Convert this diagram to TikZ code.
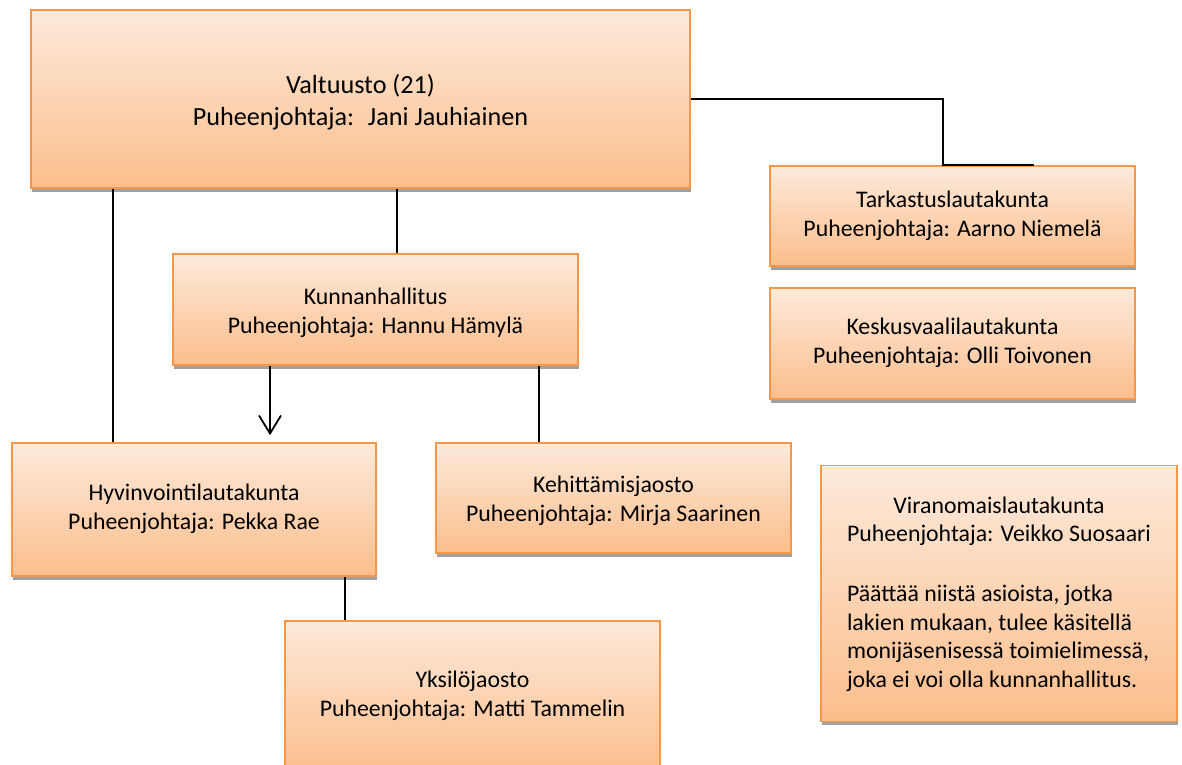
\documentclass[tikz,border=0pt]{standalone}
\usepackage{fontspec}
\setmainfont{Carlito}
\usetikzlibrary{shadows,arrows.meta}
\definecolor{boxborder}{HTML}{F79646}
\definecolor{boxtop}{HTML}{FDEADB}
\definecolor{boxbottom}{HTML}{FBBE8C}
\definecolor{shadowgray}{RGB}{160,160,160}
\newcommand\orgtext[2]{\raisebox{#1}[\height][\depth]{\begin{tabular}{@{}c@{}}#2\end{tabular}}}
\tikzset{
  orgbox/.style={draw=boxborder, line width=1.6pt, top color=boxtop, bottom color=boxbottom,
    inner sep=0pt, align=center, font=\fontsize{23.8}{28.7}\selectfont,
    drop shadow={shadow xshift=1pt, shadow yshift=-3.5pt, fill=shadowgray, opacity=1}},
  link/.style={draw=black, line width=1.5pt},
  arrowlink/.style={draw=black, line width=1.8pt, -{Straight Barb[length=18pt,width=22pt]}, shorten >=7pt}
}
\begin{document}
\begin{tikzpicture}[x=1pt,y=-1pt]
\useasboundingbox (0,0) rectangle (1182,764);
\clip (0,0) rectangle (1182,764);
% boxes
\node[orgbox, minimum width=659, minimum height=178, font=\fontsize{26.2}{32}\selectfont] (valt) at (360.5,99)
  {\orgtext{-4pt}{Valtuusto (21)\\Puheenjohtaja:~ Jani Jauhiainen}};
\node[orgbox, minimum width=365, minimum height=100] (tark) at (952.5,216)
  {\orgtext{0pt}{Tarkastuslautakunta\\Puheenjohtaja: Aarno Niemelä}};
\node[orgbox, minimum width=365, minimum height=111] (kesk) at (952.5,343.5)
  {\orgtext{0pt}{Keskusvaalilautakunta\\Puheenjohtaja: Olli Toivonen}};
\node[orgbox, minimum width=405, minimum height=111] (kh) at (375.5,309.5)
  {\orgtext{-3.5pt}{Kunnanhallitus\\Puheenjohtaja: Hannu Hämylä}};
\node[orgbox, minimum width=364, minimum height=133] (hyv) at (194,509.5)
  {\orgtext{0pt}{Hyvinvointilautakunta\\Puheenjohtaja: Pekka Rae}};
\node[orgbox, minimum width=355, minimum height=110] (keh) at (613.5,498)
  {\orgtext{-3pt}{Kehittämisjaosto\\Puheenjohtaja: Mirja Saarinen}};
\node[orgbox, minimum width=375, minimum height=150] (yks) at (472.5,696)
  {\orgtext{0pt}{Yksilöjaosto\\Puheenjohtaja: Matti Tammelin}};
\node[orgbox, minimum width=356, minimum height=256] (viro) at (999,593.5)
  {\raisebox{-1pt}[\height][\depth]{\begin{tabular}{@{}l@{}}
   \multicolumn{1}{@{}c@{}}{Viranomaislautakunta}\\
   \multicolumn{1}{@{}c@{}}{Puheenjohtaja: Veikko Suosaari}\\[31pt]
   Päättää niistä asioista, jotka\\
   lakien mukaan, tulee käsitellä\\
   monijäsenisessä toimielimessä,\\
   joka ei voi olla kunnanhallitus.
   \end{tabular}}};
% connector x positions
\coordinate (xa) at (113,0);
\coordinate (xb) at (397,0);
\coordinate (xc) at (943,0);
\coordinate (xd) at (1034,0);
\coordinate (xe) at (270,0);
\coordinate (xf) at (539,0);
\coordinate (xg) at (345,0);
% connectors
\draw[link] (valt.south -| xa) -- (hyv.north -| xa);
\draw[link] (valt.south -| xb) -- (kh.north -| xb);
\draw[link] (valt.east) -| (tark.north -| xc) -- (tark.north -| xd);
\draw[arrowlink] (kh.south -| xe) -- (hyv.north -| xe);
\draw[link] (kh.south -| xf) -- (keh.north -| xf);
\draw[link] (hyv.south -| xg) -- (yks.north -| xg);
\end{tikzpicture}
\end{document}
